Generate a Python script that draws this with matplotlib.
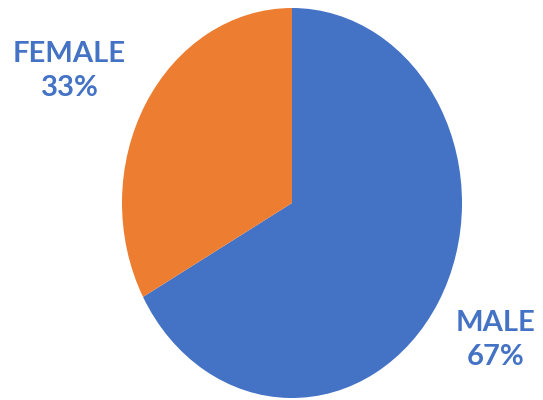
import matplotlib
matplotlib.use("Agg")
import matplotlib.pyplot as plt

labels = ["MALE", "FEMALE"]
shares = [67, 33]
slice_colors = ["#4472C4", "#ED7D31"]
label_color = "#4472C4"

fig = plt.figure(figsize=(5.43, 4.0), dpi=100)
ax = fig.add_axes([0, 0, 1, 1])

ax.pie(shares, colors=slice_colors, startangle=90, counterclock=False,
       radius=1.0, center=(0, 0), frame=True)

# pie is stretched into an ellipse: 170 px wide radius, 195 px tall radius
cx, cy, rx, ry = 292, 203, 170, 195
ax.set_aspect("auto")
ax.set_xlim(-cx / rx, (543 - cx) / rx)
ax.set_ylim(-(400 - cy) / ry, cy / ry)
ax.axis("off")

# label positions (axes fraction)
spots = {"FEMALE": (0.128, 0.823), "MALE": (0.913, 0.15)}
for name, pct in zip(labels, shares):
    x, y = spots[name]
    ax.text(x, y, f"{name}\n{pct}%", transform=ax.transAxes,
            ha="center", va="center", fontsize=21, fontweight="bold",
            family="Lato", color=label_color, linespacing=1.4)

plt.savefig("out.png", dpi=100)
